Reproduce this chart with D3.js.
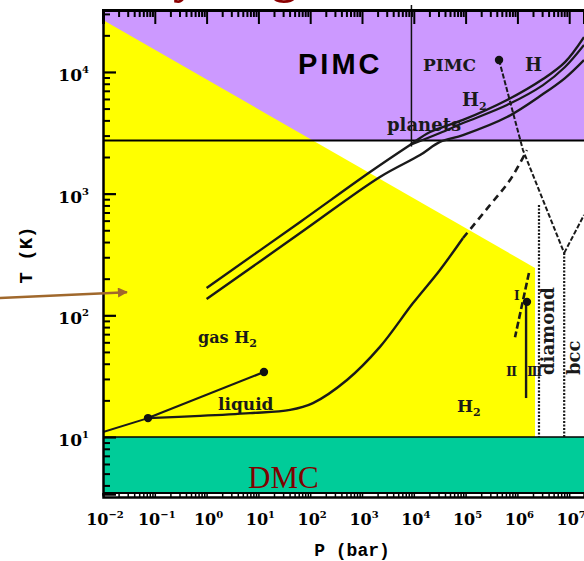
<!DOCTYPE html>
<html>
<head>
<meta charset="utf-8">
<script src="https://cdn.jsdelivr.net/npm/d3@7"></script>
<style>
  body { margin: 0; background: #fff; }
  svg { display: block; }
</style>
</head>
<body>
<div id="chart"></div>
<script>
// ticks (P in bar, T in K)
var pTicks = [1e-2, 1e-1, 1e0, 1e1, 1e2, 1e3, 1e4, 1e5, 1e6, 1e7];
var pTickExp = ["\u22122", "\u22121", "0", "1", "2", "3", "4", "5", "6", "7"];
var tTicks = [1e1, 1e2, 1e3, 1e4];
var tTickExp = ["1", "2", "3", "4"];

// regions
var pimcMinT = 2730;
var pimcSplitP = 9000;
var dmcMaxT = 10;
var classicalRegion = [[1e-2, 26700], [2.19e6, 245], [2.19e6, 10], [1e-2, 10]];

// curves
var isentropeUpper = [[1.0, 168], [64, 585], [1430, 1505], [8450, 2510], [20600, 3210], [89100, 4030], [630000, 5880], [3.12e6, 8750], [8.3e6, 12060], [1.93e7, 19360]];
var isentropeBranch = [[8450, 2510], [32000, 3150], [89100, 3800], [630000, 5350], [3.12e6, 7800], [8.3e6, 10970], [1.93e7, 16640]];
var isentropeLower = [[1.0, 136], [64, 474], [2220, 1370], [13200, 2075], [32000, 2660], [89100, 3030], [630000, 4260], [3.12e6, 6580], [8.3e6, 8910], [1.93e7, 12530]];
var sublimation = [[0.01, 11.0], [0.074, 14.3]];
var boiling = [[0.074, 14.3], [12.8, 34.2]];
var melting = [[0.074, 14.3], [0.75, 14.9], [6.9, 15.7], [41, 16.7], [113, 19.0], [513, 29.4], [2220, 55], [9660, 126], [32000, 236], [89100, 432]];
var meltingExtrap = [[89100, 432], [296000, 806], [720000, 1294], [1.53e6, 2280]];
var dissociation = [[442000, 12530], [1.28e6, 2280], [8.0e6, 325]];
var bccBranch = [[8.0e6, 325], [1.93e7, 667]];
var diamondBoundary = [[2.61e6, 806], [2.61e6, 10]];
var bccBoundary = [[8.0e6, 325], [8.0e6, 10]];
var solidLine = [[1.47e6, 134], [1.47e6, 20.9]];
var solidDashed = [[1.67e6, 223], [899000, 66]];
var dots = [[0.074, 14.3], [12.8, 34.2], [1.53e6, 129], [442000, 12530]];
var arrowPts = [[1.0e-4, 139], [0.029, 155]];

var width = 584, height = 561;
var pLeft = 103, pRight = 584, pTop = 10, pBottom = 494;

var x = d3.scaleLog().domain([1e-2, 1.93e7]).range([pLeft, pRight]);
var y = d3.scaleLog().domain([3.4, 32300]).range([pBottom, pTop]);

var svg = d3.select("#chart").append("svg")
    .attr("width", width)
    .attr("height", height);

var defs = svg.append("defs");
defs.append("clipPath").attr("id", "plot")
    .append("rect").attr("x", pLeft).attr("y", pTop).attr("width", pRight - pLeft).attr("height", pBottom - pTop);
defs.append("marker")
    .attr("id", "arrow").attr("viewBox", "0 0 10 10")
    .attr("refX", 9).attr("refY", 5)
    .attr("markerWidth", 5).attr("markerHeight", 4)
    .attr("orient", "auto")
    .append("path").attr("d", "M0,0L10,5L0,10z").attr("fill", "#a0682c");

// cropped title (only descenders reach into view)
svg.append("text")
    .attr("x", 134).attr("y", -8)
    .attr("font-family", "Liberation Serif").attr("font-weight", "bold")
    .attr("font-size", 50).attr("fill", "#8b0000")
    .text("Hydrogen");

var g = svg.append("g").attr("clip-path", "url(#plot)");

// regions
g.append("rect")
    .attr("x", pLeft).attr("width", pRight - pLeft)
    .attr("y", pTop).attr("height", y(pimcMinT) - pTop)
    .attr("fill", "#cc99ff");

g.append("path")
    .attr("d", d3.line().x(function(d) { return x(d[0]); }).y(function(d) { return y(d[1]); })(classicalRegion) + "Z")
    .attr("fill", "#ffff00");

g.append("rect")
    .attr("x", pLeft).attr("width", pRight - pLeft)
    .attr("y", y(dmcMaxT)).attr("height", pBottom - y(dmcMaxT))
    .attr("fill", "#00cc99");

g.append("line")
    .attr("x1", pLeft).attr("x2", pRight)
    .attr("y1", y(dmcMaxT)).attr("y2", y(dmcMaxT))
    .attr("stroke", "#000").attr("stroke-width", 1.5);

g.append("line")
    .attr("x1", pLeft).attr("x2", pRight)
    .attr("y1", y(pimcMinT)).attr("y2", y(pimcMinT))
    .attr("stroke", "#000").attr("stroke-width", 2);

svg.append("line")
    .attr("x1", x(pimcSplitP)).attr("x2", x(pimcSplitP))
    .attr("y1", pTop - 5).attr("y2", y(pimcMinT) + 6)
    .attr("stroke", "#111").attr("stroke-width", 1.5);

// curves
var smooth = d3.line()
    .x(function(d) { return x(d[0]); })
    .y(function(d) { return y(d[1]); })
    .curve(d3.curveCatmullRom);
var straight = d3.line()
    .x(function(d) { return x(d[0]); })
    .y(function(d) { return y(d[1]); });

function curve(data, gen, w, dash) {
    g.append("path")
        .attr("d", gen(data))
        .attr("fill", "none")
        .attr("stroke", "#1a1a1a")
        .attr("stroke-width", w)
        .attr("stroke-dasharray", dash || null)
        .attr("stroke-linejoin", "round");
}

curve(isentropeUpper, smooth, 2.4);
curve(isentropeBranch, smooth, 2.2);
curve(isentropeLower, smooth, 2.4);
curve(sublimation, straight, 2);
curve(boiling, straight, 2.2);
curve(melting, smooth, 2.4);
curve(meltingExtrap, smooth, 2.6, "7,5");
curve(dissociation, straight, 2, "5,2");
curve(bccBranch, straight, 2, "5,2");
curve(diamondBoundary, straight, 2.2, "2,1.5");
curve(bccBoundary, straight, 2.2, "2,1.5");
curve(solidLine, straight, 2.4);
curve(solidDashed, straight, 2.6, "7,3");

g.selectAll("circle.pt")
    .data(dots)
    .enter().append("circle")
    .attr("class", "pt")
    .attr("cx", function(d) { return x(d[0]); })
    .attr("cy", function(d) { return y(d[1]); })
    .attr("r", 4.2)
    .attr("fill", "#111");

// frame and axes
var pMinor = x.ticks().filter(function(d) { return pTicks.indexOf(d) == -1; });
var tMinor = y.ticks().filter(function(d) { return tTicks.indexOf(d) == -1; });

svg.append("g").attr("transform", "translate(0," + pTop + ")")
    .call(d3.axisBottom(x).tickValues(pTicks).tickSize(14).tickFormat(""))
    .call(function(a) { a.select(".domain").attr("stroke-width", 3); a.selectAll(".tick line").attr("stroke-width", 2); });
svg.append("g").attr("transform", "translate(0," + pTop + ")")
    .call(d3.axisBottom(x).tickValues(pMinor).tickSize(7).tickFormat(""))
    .call(function(a) { a.select(".domain").remove(); a.selectAll(".tick line").attr("stroke-width", 2); });

svg.append("g").attr("transform", "translate(" + pLeft + ",0)")
    .call(d3.axisRight(y).tickValues(tTicks).tickSize(13).tickFormat(""))
    .call(function(a) { a.select(".domain").attr("stroke-width", 2.5); a.selectAll(".tick line").attr("stroke-width", 2.2); });
svg.append("g").attr("transform", "translate(" + pLeft + ",0)")
    .call(d3.axisRight(y).tickValues(tMinor).tickSize(7).tickFormat(""))
    .call(function(a) { a.select(".domain").remove(); a.selectAll(".tick line").attr("stroke-width", 2); });

svg.append("line")
    .attr("x1", pLeft).attr("x2", pRight)
    .attr("y1", pBottom - 1).attr("y2", pBottom - 1)
    .attr("stroke", "#000").attr("stroke-width", 2);
svg.append("g").attr("transform", "translate(0," + (pBottom + 3) + ")")
    .call(d3.axisTop(x).tickValues(x.ticks()).tickSize(4).tickFormat(""))
    .call(function(a) { a.select(".domain").attr("stroke-width", 2.5); a.selectAll(".tick line").attr("stroke-width", 1.5); });

// tick labels
var tickFont = "DejaVu Serif";
svg.selectAll("text.plab")
    .data(pTicks)
    .enter().append("text")
    .attr("class", "plab")
    .attr("x", function(d) { return x(d) + 2; })
    .attr("y", 525)
    .attr("text-anchor", "middle")
    .attr("font-family", tickFont).attr("font-weight", "bold").attr("font-size", 16)
    .each(function(d, i) {
        var t = d3.select(this);
        t.append("tspan").text("10");
        t.append("tspan").attr("font-size", 10).attr("dy", -7).text(pTickExp[i]);
    });

svg.selectAll("text.tlab")
    .data(tTicks)
    .enter().append("text")
    .attr("class", "tlab")
    .attr("x", 89)
    .attr("y", function(d) { return y(d) + 9; })
    .attr("text-anchor", "end")
    .attr("font-family", tickFont).attr("font-weight", "bold").attr("font-size", 17)
    .each(function(d, i) {
        var t = d3.select(this);
        t.append("tspan").text("10");
        t.append("tspan").attr("font-size", 10).attr("dy", -8).text(tTickExp[i]);
    });

svg.append("text")
    .attr("transform", "translate(32,255) rotate(-90)")
    .attr("text-anchor", "middle")
    .attr("font-family", "Liberation Mono").attr("font-weight", "bold").attr("font-size", 19)
    .text("T (K)");

svg.append("text")
    .attr("x", 352).attr("y", 556)
    .attr("text-anchor", "middle")
    .attr("font-family", "Liberation Mono").attr("font-weight", "bold").attr("font-size", 18)
    .text("P (bar)");

// region labels
svg.append("text")
    .attr("x", 298).attr("y", 74)
    .attr("font-family", "Liberation Sans").attr("font-weight", "bold")
    .attr("font-size", 29).attr("letter-spacing", 3)
    .text("PIMC");

svg.append("text")
    .attr("x", 248).attr("y", 488)
    .attr("font-family", "Liberation Serif").attr("font-size", 31)
    .attr("fill", "#800000")
    .text("DMC");

function label(px, py, str, sub, size, spacing) {
    var t = svg.append("text")
        .attr("x", px).attr("y", py)
        .attr("font-family", "DejaVu Serif").attr("font-weight", "bold")
        .attr("font-size", size || 17)
        .attr("letter-spacing", spacing || null)
        .attr("fill", "#1a1a1a");
    t.append("tspan").text(str);
    if (sub) t.append("tspan").attr("font-size", 11).attr("dy", 4).text(sub);
    return t;
}

label(423, 71, "PIMC", null, 17);
label(525, 71, "H", null, 18);
label(462, 106, "H", "2", 18);
label(387, 131, "planets", null, 18);
label(198, 343, "gas H", "2", 16);
label(218, 410, "liquid", null, 17);
label(457, 412, "H", "2", 17);
label(514, 300, "I", null, 12);
label(506, 376, "II", null, 13, -1);
label(527, 376, "III", null, 13, -1.5);

svg.append("text")
    .attr("transform", "translate(554,375) rotate(-90)")
    .attr("font-family", "DejaVu Serif").attr("font-weight", "bold").attr("font-size", 18)
    .attr("fill", "#1a1a1a")
    .text("diamond");
svg.append("text")
    .attr("transform", "translate(580,375) rotate(-90)")
    .attr("font-family", "DejaVu Serif").attr("font-weight", "bold").attr("font-size", 18)
    .attr("fill", "#1a1a1a")
    .text("bcc");

// pointer arrow (outside the plot, same scales)
svg.append("line")
    .attr("x1", x(arrowPts[0][0])).attr("y1", y(arrowPts[0][1]))
    .attr("x2", x(arrowPts[1][0])).attr("y2", y(arrowPts[1][1]))
    .attr("stroke", "#a0682c").attr("stroke-width", 2.5)
    .attr("marker-end", "url(#arrow)");
</script>
</body>
</html>
